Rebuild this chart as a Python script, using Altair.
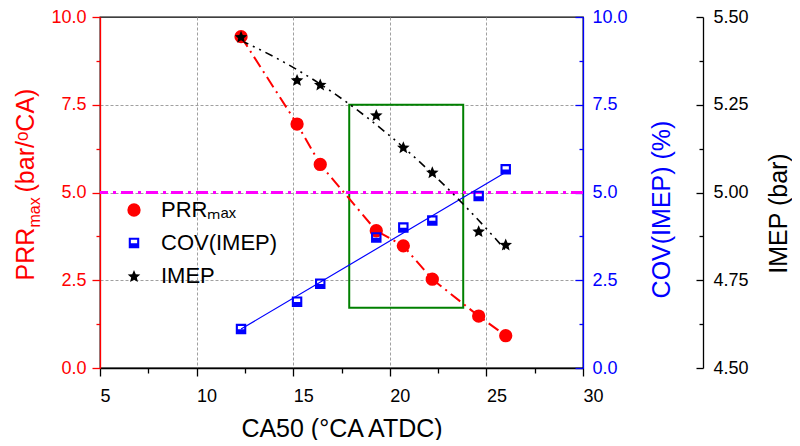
import math
import altair as alt
import pandas as pd

# ---- data ----
ca50 = [12.3, 15.2, 16.4, 19.3, 20.7, 22.2, 24.6, 26.0]
prr = [9.44, 6.95, 5.80, 3.91, 3.48, 2.53, 1.48, 0.92]
cov = [1.11, 1.89, 2.40, 3.72, 4.00, 4.20, 4.90, 5.66]
imep = [5.444, 5.321, 5.308, 5.221, 5.129, 5.058, 4.890, 4.852]

series_names = ["PRRₘₐₓ", "COV(IMEP)", "IMEP"]
x_ticks = [5, 10, 15, 20, 25, 30]
x_minor = [7.5, 12.5, 17.5, 22.5, 27.5]
x_grid = [10, 15, 20, 25]
left_ticks = [0, 2.5, 5, 7.5, 10]
left_minor = [1.25, 3.75, 6.25, 8.75]
left_grid = [2.5, 5, 7.5]
imep_ticks = [4.5, 4.75, 5.0, 5.25, 5.5]
imep_minor = [4.625, 4.875, 5.125, 5.375]
limit_prr = [5.0]
window_x = [17.9, 23.8]
window_y = [1.72, 7.5]

FONT = "Liberation Sans, Arial, sans-serif"
GRID = "#a0a0a0"
RED, BLUE, BLACK, MAGENTA, GREEN = "#FF0000", "#0000FF", "#000000", "#FF00FF", "#008000"

df = pd.DataFrame({"x": ca50, "prr": prr, "cov": cov, "imep": imep})

XS = alt.Scale(domain=[5, 30], nice=False, zero=False)
PRS = alt.Scale(domain=[0, 10], nice=False, zero=False)
IMS = alt.Scale(domain=[4.5, 5.5], nice=False, zero=False)

# marker shapes
star_pts = []
for k in range(10):
    ang = -math.pi / 2 + k * math.pi / 5
    r = 1.0 if k % 2 == 0 else 0.45
    star_pts.append(f"{r * math.cos(ang):.3f},{r * math.sin(ang) + 0.1:.3f}")
STAR = "M" + "L".join(star_pts) + "Z"
HALF_SQ = "M-1,-1L1,-1L1,1L-1,1Z M-0.6,-0.6L-0.6,0.05L0.6,0.05L0.6,-0.6Z"

COLOR = alt.Scale(domain=series_names, range=[RED, BLUE, BLACK])
SHAPE = alt.Scale(domain=series_names, range=["circle", HALF_SQ, STAR])
SIZE = alt.Scale(type="ordinal", domain=series_names, range=[177, 110, 175])
LEG = alt.Legend(title=None, orient="none", legendX=23, legendY=182, labelFontSize=22,
                 labelFont=FONT, labelColor="black", rowPadding=11, labelOffset=16,
                 padding=0, symbolStrokeWidth=0)


def inv(yfield, yscale, x_axis=None, y_axis=None):
    return alt.Chart(df).mark_point(opacity=0, size=1).encode(
        x=alt.X("x:Q", scale=XS, axis=x_axis),
        y=alt.Y(f"{yfield}:Q", scale=yscale, axis=y_axis),
    )


# ---- axes ----
x_major = alt.Axis(orient="bottom", values=x_ticks, grid=False, tickSize=8, tickWidth=1.3,
                   tickColor=BLACK, domainColor=BLACK, domainWidth=1.3, labelColor=BLACK,
                   labelPadding=11, labelFontSize=18, labelAlign="left", labelFlush=False,
                   labelOverlap=False, title="CA50 (°CA ATDC)", titleColor=BLACK,
                   titleFontSize=25, titleX=241.5, titleY=68, titleAlign="center",
                   titleBaseline="alphabetic")
y_major = alt.Axis(orient="left", values=left_ticks, format=".1f", grid=False, tickSize=8,
                   tickWidth=1.3, tickColor=RED, domainColor=RED, domainWidth=1.3,
                   labelColor=RED, labelPadding=6, labelFontSize=18, title="PRR",
                   titleColor=RED, titleFontSize=25, titleAngle=270, titleAlign="left",
                   titleBaseline="alphabetic", titleX=-67, titleY=263)
x_min = alt.Axis(orient="bottom", values=x_minor, grid=False, tickSize=5, tickWidth=1.3,
                 tickColor=BLACK, domain=False, labels=False, title=None)
y_min = alt.Axis(orient="left", values=left_minor, grid=False, tickSize=4, tickWidth=1.3,
                 tickColor=RED, domain=False, labels=False, title="max", titleColor=RED,
                 titleFontSize=16, titleAngle=270, titleAlign="left",
                 titleBaseline="alphabetic", titleX=-61, titleY=210)
x_gr = alt.Axis(orient="bottom", values=x_grid, grid=True, gridColor=GRID, gridDash=[3, 2],
                gridWidth=1, ticks=False, domain=False, labels=False, title=None)
y_gr = alt.Axis(orient="left", values=left_grid, grid=True, gridColor=GRID, gridDash=[3, 2],
                gridWidth=1, ticks=False, domain=False, labels=False,
                title="(bar/ᵒCA)", titleColor=RED, titleFontSize=25, titleAngle=270,
                titleAlign="left", titleBaseline="alphabetic", titleX=-67, titleY=175)

cov_major = alt.Axis(orient="right", offset=-8, values=left_ticks, format=".1f", grid=False,
                     tickSize=8, tickWidth=1.3, tickColor=BLUE, domain=False,
                     labelColor=BLUE, labelPadding=9, labelFontSize=18, title=None)
cov_min = alt.Axis(orient="right", offset=-4, values=left_minor, grid=False, tickSize=4,
                   tickWidth=1.3, tickColor=BLUE, domain=False, labels=False, title=None)
cov_dom = alt.Axis(orient="right", offset=0, grid=False, ticks=False, labels=False,
                   domainColor=BLUE, domainWidth=1.3, title="COV(IMEP) (%)",
                   titleColor=BLUE, titleFontSize=25, titleAngle=270, titleAlign="center",
                   titleBaseline="alphabetic", titleX=86, titleY=192)
im_major = alt.Axis(orient="right", offset=113, values=imep_ticks, format=".2f", grid=False,
                    tickSize=7, tickWidth=1.3, tickColor=BLACK, domain=False,
                    labelColor=BLACK, labelPadding=10, labelFontSize=18, title=None)
im_min = alt.Axis(orient="right", offset=116, values=imep_minor, grid=False, tickSize=4,
                  tickWidth=1.3, tickColor=BLACK, domain=False, labels=False, title=None)
im_dom = alt.Axis(orient="right", offset=120, grid=False, ticks=False, labels=False,
                  domainColor=BLACK, domainWidth=1.3, title="IMEP (bar)",
                  titleColor=BLACK, titleFontSize=25, titleAngle=270, titleAlign="center",
                  titleBaseline="alphabetic", titleX=83, titleY=196)

axis_layers = [
    inv("prr", PRS, x_major, y_major),
    inv("prr", PRS, x_min, y_min),
    inv("prr", PRS, x_gr, y_gr),
    inv("cov", PRS, None, cov_major),
    inv("cov", PRS, None, cov_min),
    inv("cov", PRS, None, cov_dom),
    inv("imep", IMS, None, im_major),
    inv("imep", IMS, None, im_min),
    inv("imep", IMS, None, im_dom),
]

# ---- data layers ----
rect_df = pd.DataFrame({"x1": [window_x[0]], "x2": [window_x[1]],
                        "y1": [window_y[0]], "y2": [window_y[1]]})
rect = alt.Chart(rect_df).mark_rect(fillOpacity=0, stroke=GREEN, strokeWidth=2).encode(
    x=alt.X("x1:Q", scale=XS, axis=None), x2="x2:Q",
    y=alt.Y("y1:Q", scale=PRS, axis=None), y2="y2:Q")

limit = alt.Chart(pd.DataFrame({"y": limit_prr})).mark_rule(
    color=MAGENTA, strokeWidth=3, strokeDash=[12, 5, 3, 5]).encode(
    y=alt.Y("y:Q", scale=PRS, axis=None))

red_line = alt.Chart(df).mark_line(color=RED, strokeWidth=2, strokeDash=[12, 5, 2, 5]).encode(
    x=alt.X("x:Q", scale=XS, axis=None), y=alt.Y("prr:Q", scale=PRS, axis=None))

blue_fit = alt.Chart(df).transform_regression("x", "cov").mark_line(
    color=BLUE, strokeWidth=1.2).encode(
    x=alt.X("x:Q", scale=XS, axis=None), y=alt.Y("cov:Q", scale=PRS, axis=None))

black_fit = alt.Chart(df).transform_regression("x", "imep", method="poly", order=2).mark_line(
    color=BLACK, strokeWidth=1.6, strokeDash=[8, 5, 2, 5, 2, 5]).encode(
    x=alt.X("x:Q", scale=XS, axis=None), y=alt.Y("imep:Q", scale=IMS, axis=None))


def pts(field, yscale, name):
    d = df.assign(series=name)
    return alt.Chart(d).mark_point(filled=True, opacity=1).encode(
        x=alt.X("x:Q", scale=XS, axis=None),
        y=alt.Y(f"{field}:Q", scale=yscale, axis=None),
        color=alt.Color("series:N", scale=COLOR, legend=LEG),
        shape=alt.Shape("series:N", scale=SHAPE, legend=LEG),
        size=alt.Size("series:N", scale=SIZE, legend=LEG),
    )


layers = axis_layers + [
    rect, limit, red_line, blue_fit, black_fit,
    pts("prr", PRS, series_names[0]),
    pts("cov", PRS, series_names[1]),
    pts("imep", IMS, series_names[2]),
]

chart = alt.layer(*layers).resolve_scale(
    x="independent", y="independent"
).properties(
    width=483, height=351,
    autosize=alt.AutoSizeParams(type="none"),
    padding={"left": 92, "top": 9, "right": 209, "bottom": 72},
    background="white",
).configure_view(
    stroke=BLACK, strokeWidth=1.3
).configure_axis(
    labelFont=FONT, titleFont=FONT, titleFontWeight="normal"
).configure_legend(
    labelFont=FONT
)

chart.save("out.html", embed_options={"renderer": "svg", "actions": False})
